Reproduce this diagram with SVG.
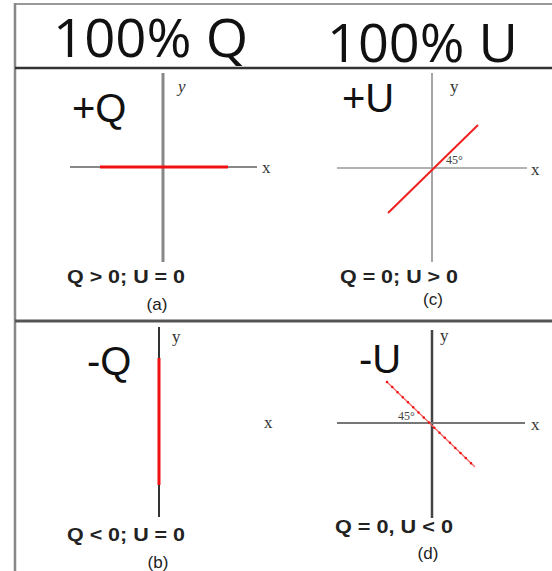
<svg xmlns="http://www.w3.org/2000/svg" width="552" height="571" viewBox="0 0 552 571">
<style>
.hdr{font-family:"Open Sans","Liberation Sans",sans-serif;font-size:53px;fill:#111}
.big{font-family:"Liberation Sans",Arial,sans-serif;font-size:40px;fill:#111}
.cap{font-family:"Liberation Sans",Arial,sans-serif;font-size:19px;font-weight:bold;fill:#222}
.lbl{font-family:"Liberation Sans",Arial,sans-serif;font-size:17px;fill:#222;text-anchor:middle}
.ax{font-family:"Liberation Serif","Times New Roman",serif;font-size:17px;fill:#333}
.deg{font-family:"Liberation Serif","Times New Roman",serif;font-size:12px;fill:#444}
.frame{fill:none}
</style>
<rect width="552" height="571" fill="#fff"/>
<g id="frame">
<line class="frame" x1="15" y1="4" x2="552" y2="4" stroke-width="2" stroke="#999"/>
<line class="frame" x1="15" y1="3" x2="15" y2="571" stroke-width="2.5" stroke="#888"/>
<line class="frame" x1="15" y1="68" x2="552" y2="68" stroke-width="2.5" stroke="#333"/>
<line class="frame" x1="15" y1="321" x2="552" y2="321" stroke-width="3" stroke="#555"/>
</g>
<g id="header">
<text class="hdr" x="53" y="57" textLength="195" lengthAdjust="spacingAndGlyphs">100% Q</text>
<text class="hdr" x="327" y="62" textLength="191" lengthAdjust="spacingAndGlyphs">100% U</text>
</g>
<g id="panel-a">
<line x1="163" y1="73" x2="163" y2="262" stroke="#888" stroke-width="3"/>
<line x1="70" y1="167" x2="257" y2="167" stroke="#888" stroke-width="2"/>
<line x1="100" y1="167" x2="228" y2="167" stroke="#f01010" stroke-width="3"/>
<text class="big" x="72" y="122">+Q</text>
<text class="ax" x="178" y="92" font-style="italic" font-size="15">y</text>
<text class="ax" x="262" y="173">x</text>
<text class="cap" x="67" y="283" textLength="118" lengthAdjust="spacingAndGlyphs">Q &gt; 0; U = 0</text>
<text class="lbl" x="157" y="310">(a)</text>
</g>
<g id="panel-c">
<line x1="432" y1="73" x2="432" y2="262" stroke="#888" stroke-width="1.5"/>
<line x1="337" y1="168" x2="527" y2="168" stroke="#999" stroke-width="1.5"/>
<line x1="388" y1="213" x2="478" y2="125" stroke="#f02020" stroke-width="2"/>
<text class="big" x="342" y="112">+U</text>
<text class="ax" x="450" y="92">y</text>
<text class="ax" x="531" y="175">x</text>
<text class="deg" x="446" y="164">45°</text>
<text class="cap" x="340" y="283" textLength="118" lengthAdjust="spacingAndGlyphs">Q = 0; U &gt; 0</text>
<text class="lbl" x="433" y="305">(c)</text>
</g>
<g id="panel-b">
<line x1="159" y1="327" x2="159" y2="517" stroke="#333" stroke-width="2"/>
<line x1="159" y1="358" x2="159" y2="485" stroke="#f01010" stroke-width="3"/>
<text class="big" x="87" y="375" font-size="38">-Q</text>
<text class="ax" x="172" y="342">y</text>
<text class="ax" x="264" y="428">x</text>
<text class="cap" x="67" y="541" textLength="118" lengthAdjust="spacingAndGlyphs">Q &lt; 0; U = 0</text>
<text class="lbl" x="158" y="568">(b)</text>
</g>
<g id="panel-d">
<line x1="432" y1="330" x2="432" y2="518" stroke="#444" stroke-width="2.5"/>
<line x1="337" y1="423" x2="525" y2="423" stroke="#777" stroke-width="2"/>
<line x1="387" y1="382" x2="475" y2="467" stroke="#f06060" stroke-width="1.2"/>
<line x1="387" y1="382" x2="475" y2="467" stroke="#f01010" stroke-width="2.5" stroke-linecap="round" stroke-dasharray="0 7.3"/>
<text class="big" x="359" y="373">-U</text>
<text class="ax" x="440" y="341">y</text>
<text class="ax" x="531" y="430">x</text>
<text class="deg" x="398" y="420">45°</text>
<text class="cap" x="335" y="533" textLength="118" lengthAdjust="spacingAndGlyphs">Q = 0, U &lt; 0</text>
<text class="lbl" x="428" y="559">(d)</text>
</g>
</svg>
